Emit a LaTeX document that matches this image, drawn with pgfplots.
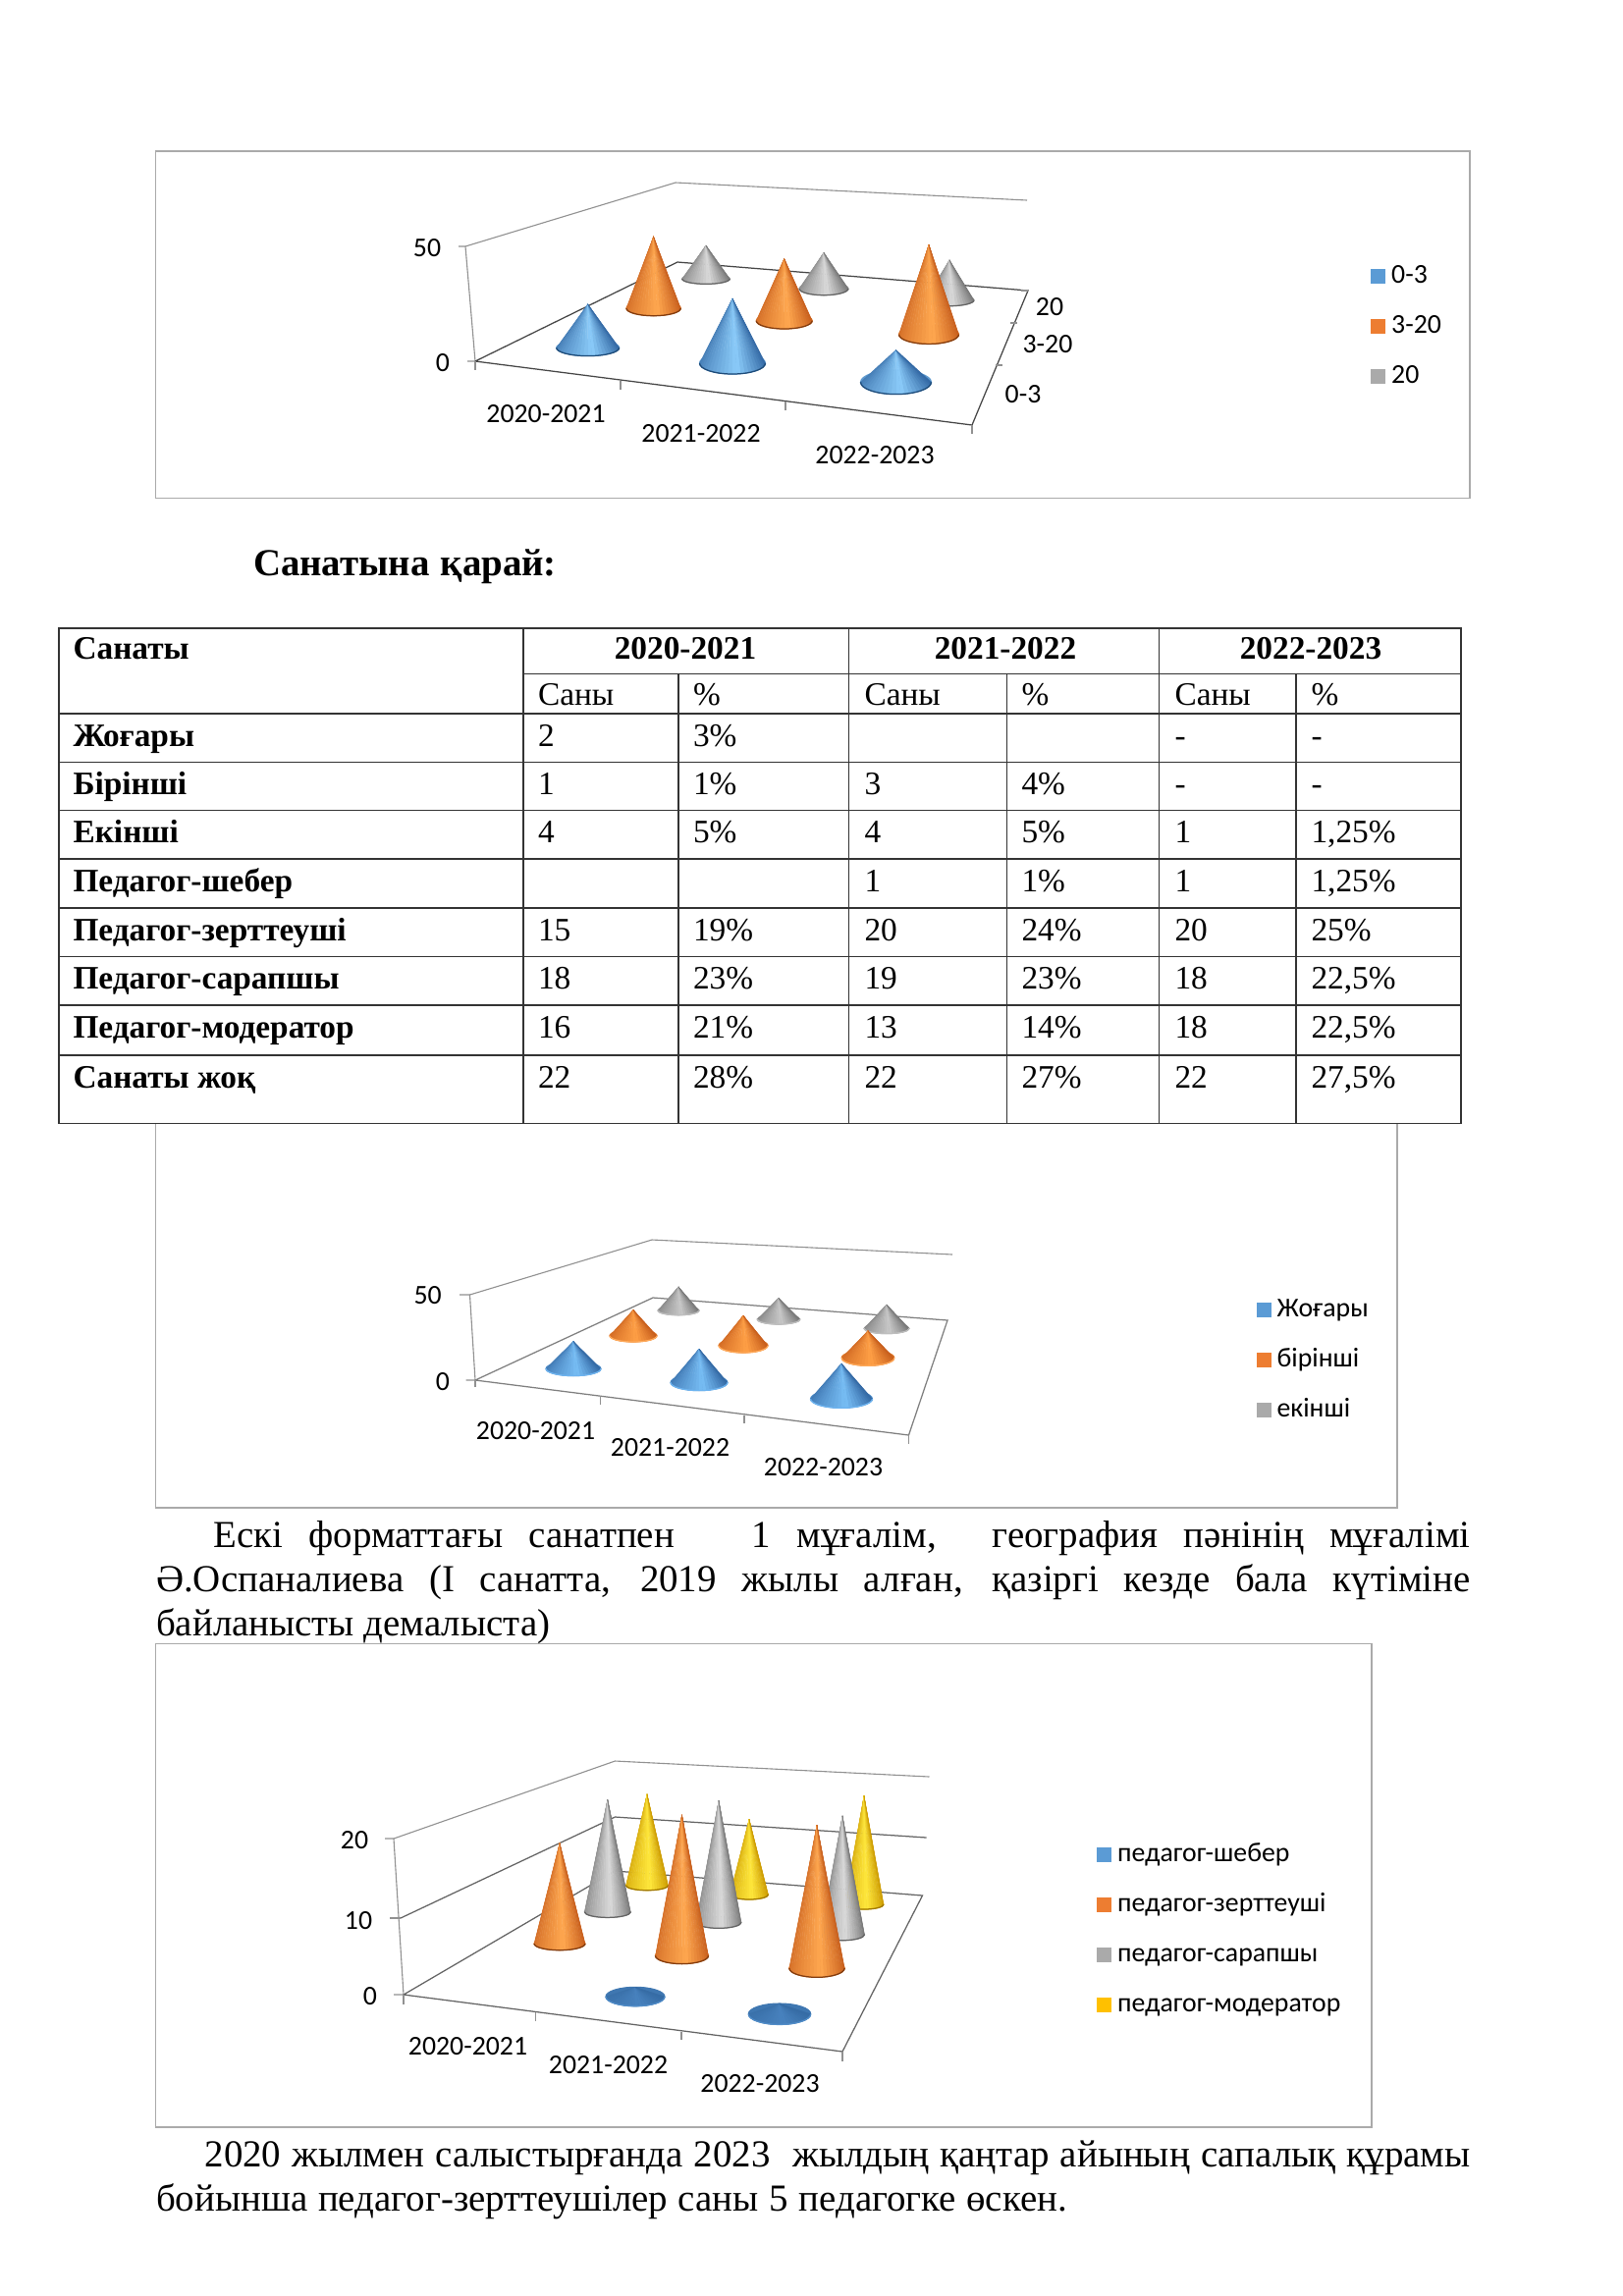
\documentclass[border=0pt]{standalone}
\usepackage{fontspec}
\setmainfont{Liberation Serif}
\newfontfamily\chartfont{Carlito}
\usepackage{pgfplots}
\pgfplotsset{compat=1.18}

% page is 1653x2339 px at 200 dpi, so 1 px = 0.36pt
\definecolor{framec}{RGB}{170,170,170}
\definecolor{wallc}{RGB}{145,145,145}
\definecolor{floorA}{RGB}{70,70,70}
\definecolor{floorB}{RGB}{127,127,127}
\definecolor{floorC}{RGB}{100,100,100}
\definecolor{cblue}{RGB}{91,155,213}
\definecolor{corange}{RGB}{237,125,49}
\definecolor{cgrey}{RGB}{170,170,170}
\definecolor{cyellow}{RGB}{255,192,0}
% cone shades: d edge, l highlight, r rim of the base
\definecolor{bd}{RGB}{50,104,164}\definecolor{bl}{RGB}{140,204,250}\definecolor{br}{RGB}{30,75,120}
\definecolor{od}{RGB}{200,94,28}\definecolor{ol}{RGB}{255,168,80}\definecolor{or}{RGB}{130,60,15}
\definecolor{gd}{RGB}{120,120,120}\definecolor{gl}{RGB}{218,218,218}\definecolor{gr}{RGB}{100,100,100}
\definecolor{yd}{RGB}{205,155,0}\definecolor{yl}{RGB}{255,232,60}\definecolor{yr}{RGB}{160,120,0}
% chart 2 has pale rims
\definecolor{Bd}{RGB}{50,104,164}\definecolor{Bl}{RGB}{120,190,245}\definecolor{Br}{RGB}{110,180,240}
\definecolor{Od}{RGB}{200,94,28}\definecolor{Ol}{RGB}{255,160,70}\definecolor{Or}{RGB}{255,170,90}
\definecolor{Gd}{RGB}{120,120,120}\definecolor{Gl}{RGB}{200,200,200}\definecolor{Gr}{RGB}{190,190,190}
% the two flat cones of chart 3
\definecolor{fd}{RGB}{54,108,165}\definecolor{fl}{RGB}{72,130,190}\definecolor{fr}{RGB}{80,140,200}

\pgfdeclareplotmark{nil}{}

% cone hanging below its apex, the mark position; sizes in px
\newcommand\drawcone[1]{%
  \pgfmathsetmacro\hh{\coneh*0.36}%
  \pgfmathsetmacro\aa{\conew*0.18}%
  \pgfmathsetmacro\rr{\coner*0.36}%
  \fill[#1d!50!#1l] (0pt,-\hh pt) ellipse[x radius=\aa pt,y radius=\rr pt];
  \foreach \i in {0,...,23}{%
    \pgfmathsetmacro\ta{180+\i*7.5}%
    \pgfmathsetmacro\tb{\ta+7.5}%
    \pgfmathsetmacro\s{(\i+0.5)/24}%
    \pgfmathsetmacro\t{\s<0.55 ? 0.3+0.7*\s/0.55 : 1-(\s-0.55)/0.45}%
    \pgfmathsetmacro\p{100*\t^1.4}%
    \colorlet{wc}{#1l!\p!#1d}%
    \filldraw[wc,line width=0.12pt] (0pt,0pt)
      -- ({\aa*cos(\ta)*1pt},{(-\hh+\rr*sin(\ta))*1pt})
      -- ({\aa*cos(\tb)*1pt},{(-\hh+\rr*sin(\tb))*1pt}) -- cycle;
  }%
  \draw[#1r,line width=0.45pt] (-\aa pt,-\hh pt)
    arc[start angle=180,end angle=360,x radius=\aa pt,y radius=\rr pt];
}

\pgfplotsset{
  chartaxis/.style n args={4}{
    x=0.36pt, y=0.36pt, scale only axis, y dir=reverse,
    xmin=#1, xmax=#2, ymin=#3, ymax=#4,
    at={(#1*0.36pt,-#3*0.36pt)}, anchor=north west,
    clip=false, xtick=\empty, ytick=\empty,
    axis line style={framec,line width=0.55pt},
    legend cell align=left,
    legend image code/.code={\path[##1,draw=none] (0pt,-2.7pt) rectangle (5.4pt,2.7pt);\path (6.8pt,0pt);},
    legend style={draw=none,fill=none,anchor=north west,inner sep=0pt,
      row sep=8.16pt,font=\chartfont\fontsize{10}{10}\selectfont,
      nodes={inner sep=0.6pt,anchor=west,text height=7pt,text depth=2pt}},
  },
  wall/.style={no markers,forget plot,wallc,line width=0.4pt},
  edge/.style={no markers,forget plot,#1,line width=0.45pt},
  cone/.style={
    scatter, only marks, mark=nil, forget plot,
    visualization depends on={\thisrow{v}*\thisrow{k}\as\coneh},
    visualization depends on={\thisrow{w}\as\conew},
    visualization depends on={\thisrow{r}\as\coner},
    scatter/@pre marker code/.code={\drawcone{#1}},
    scatter/@post marker code/.code={},
  },
}
\newcommand\lab[3]{\node[font=\chartfont\fontsize{10}{12}\selectfont,inner sep=0pt] at (axis cs:#1,#2) {#3};}

% table cells, y is the top of the row
\newcommand\cell[3]{\node[anchor=base west,inner sep=0pt,font=\fontsize{12}{14}\selectfont] at (#1,#2+33) {#3};}
\newcommand\trow[8]{%
  \node[anchor=base west,inner sep=0pt,font=\fontsize{12}{14}\selectfont\bfseries] at (74,#1+33) {#2};
  \cell{547.5}{#1}{#3}\cell{705.5}{#1}{#4}\cell{880}{#1}{#5}\cell{1040}{#1}{#6}\cell{1196}{#1}{#7}\cell{1335}{#1}{#8}}
% one body line stretched to a width, #1 x, #2 baseline, #3 width
\newcommand\jline[4]{\node[anchor=base west,inner sep=0pt,font=\fontsize{14}{16}\selectfont] at (#1,#2)
  {\hbox to #3pt{\spaceskip=0.25em plus 1fil\relax #4}};}
\newcommand\gap{\hskip 0.25em plus 1fil\relax}

\begin{document}
\begin{tikzpicture}[x=0.36pt,y=-0.36pt]
\path[use as bounding box] (0,0) rectangle (1653,2339);

% ---------- chart 1
\begin{axis}[chartaxis={158.6}{1497}{154}{507.5},
    legend style={at={(0.9242,0.6803)}}]
\addplot[wall] coordinates {(467,251) (474,251) (484,368) (476,368)};
\addplot[wall] coordinates {(474,251) (688,186) (1046,204)};
\addplot[edge=floorA] coordinates {(484,368) (690,267) (1047,296) (990,433) (484,368)};
\addplot[wall] coordinates {(484,368) (484,377)};
\addplot[wall] coordinates {(632,388) (632,397)};
\addplot[wall] coordinates {(800,409) (800,418)};
\addplot[wall] coordinates {(990,433) (990,442)};
\addplot[wall] coordinates {(1047,296) (1040,296)};
\addplot[wall] coordinates {(1029,329) (1036,329)};
\addplot[wall] coordinates {(1014,372) (1021,372)};
\addplot[cone=g] table[x=X,y expr=\thisrow{Y}-\thisrow{v}*\thisrow{k}] {
X Y v k w r
719 284 17 2.0 48.7 5.3
839 294 17.9 2.05 50 6.7
967 305.7 19.4 2.1 50 6
};
\addplot[cone=o] table[x=X,y expr=\thisrow{Y}-\thisrow{v}*\thisrow{k}] {
X Y v k w r
665.6 314 33.2 2.2 55.4 7.7
798.7 326.7 28.1 2.25 57 8.3
946 340.7 39 2.35 61 9.7
};
\addplot[cone=b] table[x=X,y expr=\thisrow{Y}-\thisrow{v}*\thisrow{k}] {
X Y v k w r
598.7 354.3 18.5 2.4 64 8.3
746 370 26.4 2.5 67 11
912.5 389.3 12.6 2.6 72 12.3
};
\addlegendimage{fill=cblue}\addlegendentry{0-3}
\addlegendimage{fill=corange}\addlegendentry{3-20}
\addlegendimage{fill=cgrey}\addlegendentry{20}
\lab{435}{253}{50}\lab{451}{370}{0}
\lab{556}{422}{2020-2021}\lab{714}{442}{2021-2022}\lab{891}{464}{2022-2023}
\lab{1069}{313}{20}\lab{1067}{351}{3-20}\lab{1042}{402}{0-3}
\end{axis}

% ---------- chart 2, its top edge lies under the table
\begin{axis}[chartaxis={158.6}{1423}{1144.5}{1536},
    legend style={at={(0.8861,0.553)}}]
\addplot[wall] coordinates {(468,1319) (478.5,1319) (484,1406) (474.6,1406)};
\addplot[wall] coordinates {(478.5,1319) (664,1263) (970,1278)};
\addplot[edge=floorB] coordinates {(484,1406) (665,1322) (965,1345) (925.5,1462) (484,1406)};
\addplot[wall] coordinates {(484,1406) (484,1413)};
\addplot[wall] coordinates {(611.6,1422) (611.6,1431)};
\addplot[wall] coordinates {(758,1442) (758,1450)};
\addplot[wall] coordinates {(925.5,1462) (925.5,1471)};
\addplot[cone=G] table[x=X,y expr=\thisrow{Y}-\thisrow{v}*\thisrow{k}] {
X Y v k w r
691 1335 15.5 1.55 42 4.7
793 1344 13.5 1.6 43.6 5
903 1353.3 14.7 1.65 46 5.3
};
\addplot[cone=O] table[x=X,y expr=\thisrow{Y}-\thisrow{v}*\thisrow{k}] {
X Y v k w r
645 1360.7 15.5 1.7 48 6.3
757 1370.7 17.5 1.75 50 7.3
884 1383.3 15.3 1.8 53.6 8
};
\addplot[cone=B] table[x=X,y expr=\thisrow{Y}-\thisrow{v}*\thisrow{k}] {
X Y v k w r
584 1394.3 15 1.85 56 7.3
712 1408.3 18 1.9 58 8.3
857 1425 18 2.0 63 9.3
};
\addlegendimage{fill=cblue}\addlegendentry{Жоғары}
\addlegendimage{fill=corange}\addlegendentry{бірінші}
\addlegendimage{fill=cgrey}\addlegendentry{екінші}
\lab{435.6}{1320}{50}\lab{451}{1408}{0}
\lab{545.5}{1458}{2020-2021}\lab{682.5}{1475}{2021-2022}\lab{838.5}{1495}{2022-2023}
\end{axis}

% ---------- chart 3
\begin{axis}[chartaxis={158.6}{1397}{1674.5}{2167},
    legend style={at={(0.7734,0.594)}}]
\addplot[wall] coordinates {(392,1873) (401,1873) (411,2032) (401,2032)};
\addplot[wall] coordinates {(397,1954) (408,1954)};
\addplot[wall] coordinates {(401,1873) (626.4,1794) (946.5,1810)};
\addplot[edge=floorC] coordinates {(408,1954) (626.4,1851) (943.6,1872)};
\addplot[edge=floorC] coordinates {(411,2032) (626.4,1906) (939.5,1931) (858,2090) (411,2032)};
\addplot[wall] coordinates {(411,2032) (411,2042)};
\addplot[wall] coordinates {(545.6,2050) (545.6,2059)};
\addplot[wall] coordinates {(694,2070) (694,2078)};
\addplot[wall] coordinates {(858,2090) (858,2100)};
\addplot[cone=y] table[x=X,y expr=\thisrow{Y}-\thisrow{v}*\thisrow{k}] {
X Y v k w r
659 1920.7 16 5.81 43 5
763 1930 13 5.9 39 5
880 1940 18 6.15 40 5
};
\addplot[cone=g] table[x=X,y expr=\thisrow{Y}-\thisrow{v}*\thisrow{k}] {
X Y v k w r
618.8 1947.7 18 6.36 47 5.7
732 1958.3 19 6.53 46 6
858 1970.7 18 6.71 45 6
};
\addplot[cone=o] table[x=X,y expr=\thisrow{Y}-\thisrow{v}*\thisrow{k}] {
X Y v k w r
570 1980 15 6.82 52 6.7
694.5 1992.3 20 7.17 54 8.3
832 2005 20 7.29 56.4 9.3
};
\addplot[cone=f] table[x=X,y expr=\thisrow{Y}-\thisrow{v}*\thisrow{k}] {
X Y v k w r
647 2034 1 9.7 60 9.7
794 2051.7 1 10.4 63.4 10.7
};
\addlegendimage{fill=cblue}\addlegendentry{педагог-шебер}
\addlegendimage{fill=corange}\addlegendentry{педагог-зерттеуші}
\addlegendimage{fill=cgrey}\addlegendentry{педагог-сарапшы}
\addlegendimage{fill=cyellow}\addlegendentry{педагог-модератор}
\lab{361}{1875}{20}\lab{365}{1957}{10}\lab{377}{2034}{0}
\lab{476.5}{2085}{2020-2021}\lab{619.5}{2104}{2021-2022}\lab{774}{2123}{2022-2023}
\end{axis}

% ---------- table
\fill[white] (60,640) rectangle (1488,1144.5);
\draw[black!80,line width=0.6pt] (60,640) rectangle (1488,1144.5);
\foreach \y in {727,776.5,825.5,875,925,974.5,1024,1075}
  \draw[black!80,line width=0.6pt] (60,\y) -- (1488,\y);
\draw[black!80,line width=0.6pt] (533,686.5) -- (1488,686.5);
\foreach \x in {533,864.5,1180.5}
  \draw[black!80,line width=0.6pt] (\x,640) -- (\x,1144.5);
\foreach \x in {691,1025.5,1320}
  \draw[black!80,line width=0.6pt] (\x,686.5) -- (\x,1144.5);
\begin{scope}[every node/.style={inner sep=0pt,anchor=base,font=\fontsize{12}{14}\selectfont\bfseries}]
\node[anchor=base west] at (74,671) {Санаты};
\node at (698,671) {2020-2021};
\node at (1024,671) {2021-2022};
\node at (1335,671) {2022-2023};
\end{scope}
\cell{547.5}{685}{Саны}\cell{705.5}{685}{\%}\cell{880}{685}{Саны}\cell{1040}{685}{\%}\cell{1196}{685}{Саны}\cell{1335}{685}{\%}
\trow{727}{Жоғары}{2}{3\%}{}{}{-}{-}
\trow{776.5}{Бірінші}{1}{1\%}{3}{4\%}{-}{-}
\trow{825.5}{Екінші}{4}{5\%}{4}{5\%}{1}{1,25\%}
\trow{875}{Педагог-шебер}{}{}{1}{1\%}{1}{1,25\%}
\trow{925}{Педагог-зерттеуші}{15}{19\%}{20}{24\%}{20}{25\%}
\trow{974.5}{Педагог-сарапшы}{18}{23\%}{19}{23\%}{18}{22,5\%}
\trow{1024}{Педагог-модератор}{16}{21\%}{13}{14\%}{18}{22,5\%}
\trow{1075}{Санаты жоқ}{22}{28\%}{22}{27\%}{22}{27,5\%}

% ---------- body text
\node[anchor=base west,inner sep=0pt,font=\fontsize{14}{16}\selectfont\bfseries] at (257.5,586.5)
  {\hbox to 111.2pt{\spaceskip=0.25em plus 1fil\relax Санатына қарай:}};
\jline{217}{1576}{460.8}{Ескі форматтағы санатпен \gap\gap 1 мұғалім, \gap география пәнінің мұғалімі}
\jline{158.6}{1621.5}{481.8}{Ә.Оспаналиева (І санатта, 2019 жылы алған, қазіргі кезде бала күтіміне}
\node[anchor=base west,inner sep=0pt,font=\fontsize{14}{16}\selectfont] at (158.6,1666) {байланысты демалыста)};
\jline{208}{2207}{464}{2020 жылмен салыстырғанда 2023 \gap жылдың қаңтар айының сапалық құрамы}
\jline{158.6}{2252}{334}{бойынша педагог-зерттеушілер саны 5 педагогке өскен.}
\end{tikzpicture}
\end{document}
